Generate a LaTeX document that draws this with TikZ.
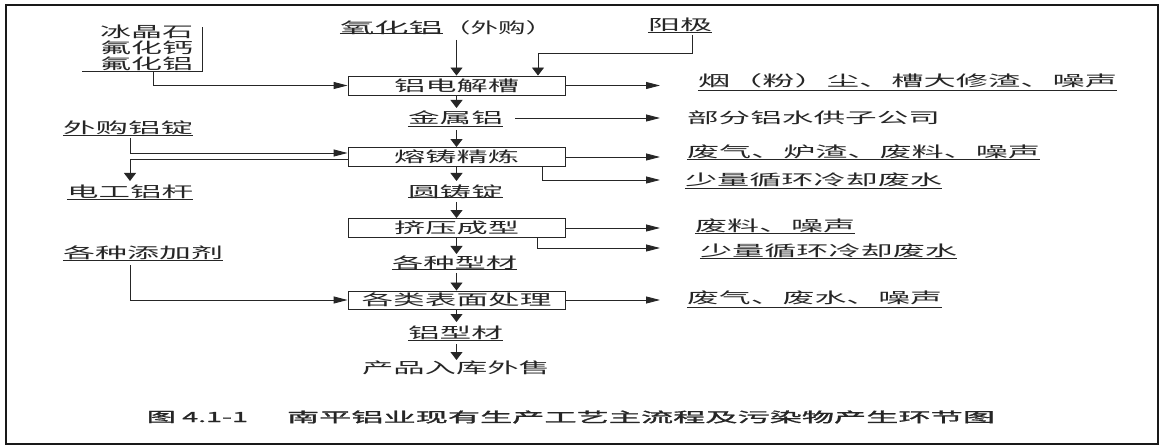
\documentclass[tikz,border=0pt]{standalone}
\usepackage{fontspec}
\usepackage{graphicx}
\newfontfamily\cjk{Noto Sans CJK SC}
\newfontfamily\cjkcap[FakeBold=1.2]{Noto Sans CJK SC}
\usetikzlibrary{arrows.meta}
\newcommand\tw[2]{\resizebox{#1pt}{\height}{#2}}
\begin{document}
\begin{tikzpicture}[x=1pt,y=-1pt,
  lbl/.style={font=\cjk\fontsize{15}{16}\selectfont, inner sep=0pt, text=black!85},
  procbox/.style={draw=black!85, line width=0.9pt, minimum width=217pt, minimum height=19pt, inner sep=0pt, font=\cjk\fontsize{15}{16}\selectfont, text=black!85},
  ln/.style={line width=0.9pt, draw=black!85},
  harr/.style={ln, -{Triangle[length=14pt,width=7pt]}},
  varr/.style={ln, -{Triangle[length=8pt,width=12pt]}},
  capt/.style={font=\cjkcap\fontsize{14}{16}\selectfont, inner sep=0pt, text=black!85}
]
\useasboundingbox (0,0) rectangle (1164,446);
\draw[line width=2.2pt, black!90] (6,5) rectangle (1158,444);

% process boxes
\node[procbox] (b1) at (456.5,85.5) {\tw{125}{铝电解槽}};
\node[procbox] (b2) at (456.5,157) {\tw{125}{熔铸精炼}};
\node[procbox] (b3) at (456.5,228) {\tw{125}{挤压成型}};
\node[procbox, minimum height=18pt] (b4) at (456.5,300) {\tw{190}{各类表面处理}};

% labels
\node[lbl, align=center] (mat) at (146.5,48) {\tw{93}{冰晶石}\\\tw{93}{氟化钙}\\\tw{93}{氟化铝}};
\node[lbl] (ox1) at (391.5,28) {\tw{103}{氧化铝}};
\node[lbl] (ox2) at (498,28) {\tw{110}{（外购）}};
\node[lbl] (yj) at (680,25) {\tw{64}{阳极}};
\node[lbl] (r1) at (907.5,81) {\tw{419}{烟（粉）尘、槽大修渣、噪声}};
\node[lbl] (jsl) at (455.5,118) {\tw{95}{金属铝}};
\node[lbl] (bf) at (813.5,118) {\tw{253}{部分铝水供子公司}};
\node[lbl] (r2a) at (863.5,152) {\tw{353}{废气、炉渣、废料、噪声}};
\node[lbl] (r2b) at (813.5,180) {\tw{257}{少量循环冷却废水}};
\node[lbl] (wg) at (128,128) {\tw{130}{外购铝锭}};
\node[lbl] (dg) at (130,192) {\tw{126}{电工铝杆}};
\node[lbl] (yzd) at (455.5,192) {\tw{95}{圆铸锭}};
\node[lbl] (r3a) at (775,226) {\tw{160}{废料、噪声}};
\node[lbl] (r3b) at (828.5,251) {\tw{257}{少量循环冷却废水}};
\node[lbl] (gzx) at (454.5,263) {\tw{125}{各种型材}};
\node[lbl] (tjj) at (143,253) {\tw{160}{各种添加剂}};
\node[lbl] (r4) at (814.5,298) {\tw{255}{废气、废水、噪声}};
\node[lbl] (lxc) at (455.5,333) {\tw{95}{铝型材}};
\node[lbl] (cp) at (456,368) {\tw{188}{产品入库外售}};
\node[capt] (cap1) at (197.5,417) {\tw{101}{图 4.1-1}};
\node[capt] (cap2) at (641,417) {\tw{708}{南平铝业现有生产工艺主流程及污染物产生环节图}};

% underlines
\foreach \n/\y in {ox1/33, yj/32, r1/90, jsl/126, r2a/159, r2b/188, wg/135, dg/199, yzd/197, r3a/233, r3b/258, gzx/269, tjj/260, r4/307, lxc/340}
  \draw[ln] (\n.west |- 0,\y) -- (\n.east |- 0,\y);

% bracket of raw materials
\coordinate (mA) at (82,71);
\coordinate (mB) at (202,71);
\coordinate (mC) at (202,27);
\draw[ln] (mA) -- (mB) -- (mC);
\coordinate (mD) at (153,71);
\draw[harr] (mD) |- (b1.west);

% alumina
\coordinate (oxs) at (456.5,40);
\draw[varr] (oxs) -- (b1.north);

% anode
\coordinate (yA) at (692,35);
\coordinate (yB) at (692,53);
\coordinate (yC) at (538,53);
\draw[varr] (yA) -- (yB) -- (yC) -- (b1.north -| yC);

% outputs right
\coordinate (e1) at (660,85.5);
\draw[harr] (b1.east) -- (e1);
\coordinate (jA) at (515,118);
\coordinate (jB) at (660,118);
\draw[harr] (jA) -- (jB);
\coordinate (e2) at (660,157);
\draw[harr] (b2.east) -- (e2);
\coordinate (f2A) at (542,167);
\coordinate (f2B) at (660,180);
\draw[harr] (f2A) |- (f2B);
\coordinate (e3) at (660,228);
\draw[harr] (b3.east) -- (e3);
\coordinate (f3A) at (537,238);
\coordinate (f3B) at (660,248);
\draw[harr] (f3A) |- (f3B);
\coordinate (e4) at (660,300);
\draw[harr] (b4.east) -- (e4);

% main vertical flow
\coordinate (v1) at (456.5,108);
\draw[varr] (b1.south) -- (v1);
\coordinate (v2) at (456.5,130);
\draw[varr] (v2) -- (b2.north);
\coordinate (v3) at (456.5,181);
\draw[varr] (b2.south) -- (v3);
\coordinate (v4) at (456.5,202);
\draw[varr] (v4) -- (b3.north);
\coordinate (v5) at (456.5,254);
\draw[varr] (b3.south) -- (v5);
\coordinate (v6) at (456.5,273);
\draw[varr] (v6) -- (b4.north);
\coordinate (v7) at (456.5,322);
\draw[varr] (b4.south) -- (v7);
\coordinate (v8) at (456.5,344);
\coordinate (v9) at (456.5,360);
\draw[varr] (v8) -- (v9);

% left inputs / outputs
\coordinate (wA) at (130,138);
\coordinate (wB) at (130,153);
\draw[harr] (wA) -- (wB) -- (b2.west |- wB);
\coordinate (wC) at (130,159);
\coordinate (wD) at (130,181);
\draw[varr] (b2.west |- wC) -- (wC) -- (wD);
\coordinate (tA) at (130,265);
\draw[harr] (tA) |- (b4.west);
\end{tikzpicture}
\end{document}
